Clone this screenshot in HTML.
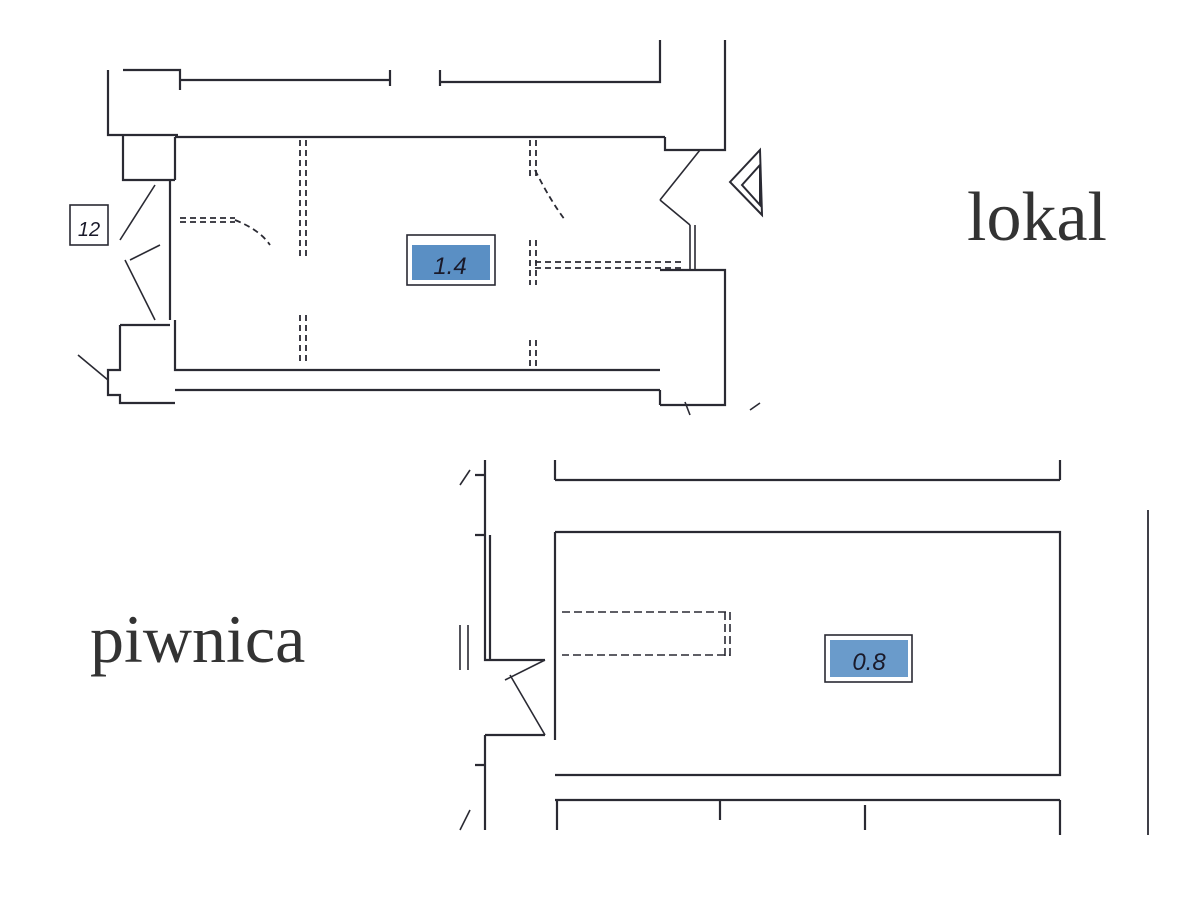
<!DOCTYPE html>
<html><head><meta charset="utf-8"><style>
html,body{margin:0;padding:0;background:#fff;width:1200px;height:900px;overflow:hidden}
svg{display:block}
</style></head><body>
<svg width="1200" height="900" viewBox="0 0 1200 900" xmlns="http://www.w3.org/2000/svg">
<g stroke="#2a2a33" stroke-width="2.2" fill="none">
<path d="M180 80H390M440 82H660V40M725 40V150H665V137M175 137H665"/>
<path d="M108 70V135H178M123 135V180H175M123 70H180V90M390 70V86M440 70V86"/>
<path d="M175 137V180M175 320V370H660M170 180V320"/>
<path d="M120 325H170M120 325V370H108V395H120V403H175M175 390H660M660 270H725V405H660M660 390V405"/>
<path d="M690 225V270M695 225V270" stroke-width="1.6"/>
<path d="M660 200L700 150M660 200L690 225M120 240L155 185M125 260L155 320M130 260L160 245" stroke-width="1.6"/>
<path d="M78 355L108 380M685 402L690 415M750 410L760 403" stroke-width="1.6"/>
<g stroke-dasharray="6 4" stroke-width="1.8">
<path d="M300 140V260M306 140V260M300 315V365M306 315V365M530 140V180M536 140V180M530 240V285M536 240V285M530 340V368M536 340V368"/>
<path d="M180 218H235M180 222H235M535 262H685M535 268H685"/>
<path d="M235 220Q260 230 270 245M535 170Q550 200 565 220" />
</g>
<path d="M730 182L760 150L762 215Z M742 185L760 165L760 205Z" stroke-width="2"/>
<rect x="70" y="205" width="38" height="40" stroke-width="1.6"/>
<path d="M555 480H1060M1060 460V480M555 460V480M555 532H1060V775H555M555 532V740M555 800H1060M1060 800V835M557 800V830M720 800V820M865 805V830"/>
<path d="M485 460V475M475 475H485M485 475V535H475M485 535V660H545M490 660V535M485 735V765H475M485 765V830M485 735H545M485 800V830"/>
<path d="M562 612H730V655H562M725 612V660M730 612V660" stroke-dasharray="8 4" stroke-width="1.6"/>
<path d="M510 675L545 735M545 660L505 680" stroke-width="1.6"/>
<path d="M460 625V670M468 625V670M460 485L470 470M460 830L470 810" stroke-width="1.6"/>
<path d="M1148 510V835" stroke-width="1.8"/>
</g>
<rect x="407" y="235" width="88" height="50" fill="#fff" stroke="#2a2a33" stroke-width="1.6"/>
<rect x="412" y="245" width="78" height="35" fill="#5a8fc4"/>
<text x="450" y="274" font-family="Liberation Sans, sans-serif" font-size="24" font-style="italic" text-anchor="middle" fill="#1a1a2a">1.4</text>
<rect x="825" y="635" width="87" height="47" fill="#fff" stroke="#2a2a33" stroke-width="1.6"/>
<rect x="830" y="640" width="78" height="37" fill="#6a9bcb"/>
<text x="869" y="670" font-family="Liberation Sans, sans-serif" font-size="24" font-style="italic" text-anchor="middle" fill="#1a1a2a">0.8</text>
<text x="89" y="236" font-family="Liberation Sans, sans-serif" font-size="20" font-style="italic" text-anchor="middle" fill="#1a1a2a">12</text>
<text x="967" y="240" font-family="Liberation Serif, serif" font-size="70" fill="#333">lokal</text>
<text x="90" y="662" font-family="Liberation Serif, serif" font-size="68" fill="#333">piwnica</text>
</svg>
</body></html>
